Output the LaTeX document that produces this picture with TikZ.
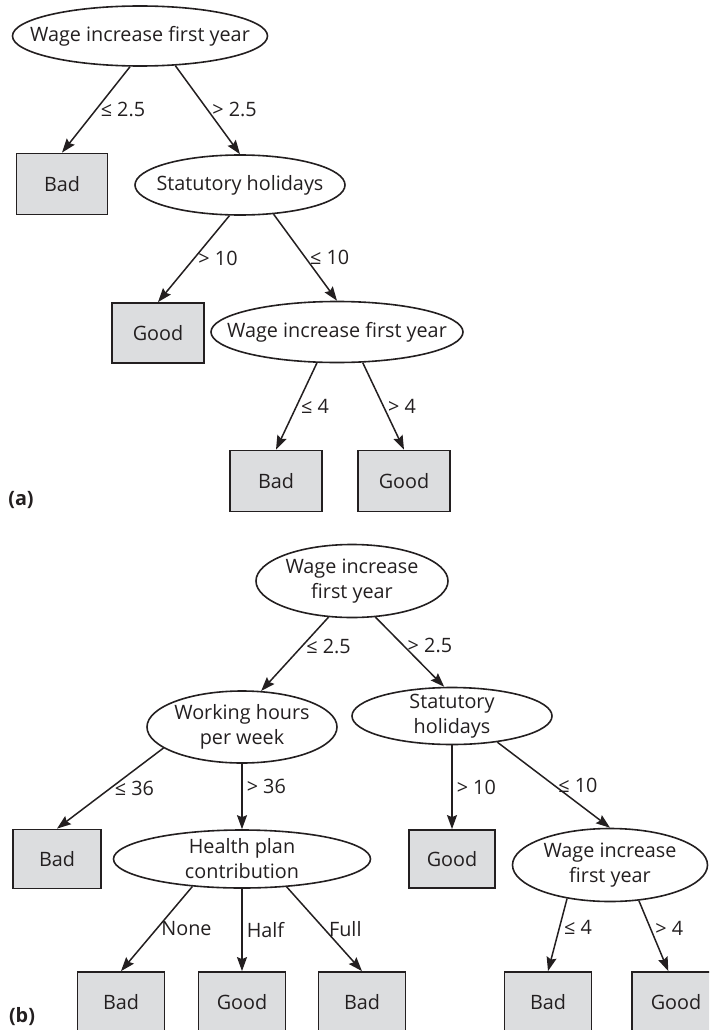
\documentclass[tikz,border=0pt]{standalone}
\usepackage{fontspec}
\setmainfont{Open Sans}
\usetikzlibrary{shapes.geometric,arrows.meta}
\definecolor{leafgray}{HTML}{DCDDDF}
\definecolor{inkgray}{HTML}{231F20}

\begin{document}
\begin{tikzpicture}[x=1pt,y=-1pt,
  font=\fontsize{19.8}{25}\selectfont, text=inkgray,
  test/.style={ellipse,draw=inkgray,line width=1.6pt,inner xsep=-80pt,inner ysep=-4pt,align=center},
  leaf/.style={draw=inkgray,fill=leafgray,line width=1.8pt,minimum width=91pt,minimum height=61pt},
  branch/.style={draw=inkgray,line width=1.5pt,-{Stealth[length=14pt,width=10pt,inset=2pt]}},
  cond/.style={midway,anchor=west,inner sep=4pt}]
\useasboundingbox (0,0) rectangle (709,1030);
\clip (0,0) rectangle (709,1030);

% Tree (a)
\node[test,minimum width=255pt,minimum height=60pt] (aroot) at (140,36) {Wage increase first year};
\node[leaf] (abad) at (62,184) {Bad};
\node[test,minimum width=210pt,minimum height=60pt] (astat) at (240,185) {Statutory holidays};
\node[leaf,minimum width=92pt,minimum height=60pt] (agood) at (158,333) {Good};
\node[test,minimum width=252pt,minimum height=61pt] (awage) at (337,332) {Wage increase first year};
\node[leaf,minimum width=92pt] (abad2) at (276,481) {Bad};
\node[leaf,minimum width=92pt] (agood2) at (404,481) {Good};
\node[font=\fontsize{19.8}{25}\selectfont\bfseries] (alabel) at (21,500) {(a)};

\draw[branch] (aroot.252) -- node[cond] {≤ 2.5} (abad.north);
\draw[branch] (aroot.320) -- node[cond] {> 2.5} (astat.north);
\draw[branch] (astat.251) -- node[cond] {> 10} (agood.north);
\draw[branch] (astat.319) -- node[cond] {≤ 10} (awage.north);
\draw[branch] (awage.237) -- node[cond] {≤ 4} (abad2.north);
\draw[branch] (awage.310) -- node[cond] {> 4} (agood2.north);

% Tree (b)
\node[test,minimum width=192pt,minimum height=73pt] (broot) at (352,581) {Wage increase\\first year};
\node[test,minimum width=190pt,minimum height=72pt] (bwork) at (242,727) {Working hours\\per week};
\node[test,minimum width=200pt,minimum height=57pt] (bstat) at (452,716) {Statutory\\holidays};
\node[leaf,minimum width=88pt,minimum height=59pt] (bbad) at (57,859) {Bad};
\node[test,minimum width=257pt,minimum height=58pt] (bhealth) at (242,859) {Health plan\\contribution};
\node[leaf,minimum width=86pt,minimum height=58pt] (bgood) at (452,859) {Good};
\node[test,minimum width=195pt,minimum height=73pt] (bwage) at (610,865) {Wage increase\\first year};
\node[leaf,minimum width=87pt,minimum height=60pt] (bbad2) at (121,1002) {Bad};
\node[leaf,minimum width=87pt,minimum height=60pt] (bgood2) at (242,1002) {Good};
\node[leaf,minimum width=87pt,minimum height=60pt] (bbad3) at (362,1002) {Bad};
\node[leaf,minimum width=87pt,minimum height=60pt] (bbad4) at (548,1002) {Bad};
\node[leaf,minimum width=88pt,minimum height=60pt] (bgood3) at (676,1002) {Good};
\node[font=\fontsize{19.8}{25}\selectfont\bfseries] (blabel) at (22,1017) {(b)};

\draw[branch] (broot.237) -- node[cond,pos=0.4] {≤ 2.5} (bwork.62);
\draw[branch] (broot.303) -- node[cond,pos=0.4] {> 2.5} (bstat.105);
\draw[branch] (bwork.195) -- node[cond] {≤ 36} (bbad.north);
\draw[branch] (bwork.south) -- node[cond,pos=0.35] {> 36} (bhealth.north);
\draw[branch] (bstat.south) -- node[cond] {> 10} (bgood.north);
\draw[branch] (bstat.330) -- node[cond] {≤ 10} (bwage.north);
\draw[branch] (bhealth.209) -- node[cond] {None} (bbad2.north);
\draw[branch] (bhealth.south) -- node[cond] {Half} (bgood2.north);
\draw[branch] (bhealth.328) -- node[cond] {Full} (bbad3.north);
\draw[branch] (bwage.218) -- node[cond,pos=0.4] {≤ 4} (bbad4.north);
\draw[branch] (bwage.309) -- node[cond,pos=0.4] {> 4} (bgood3.104);
\end{tikzpicture}
\end{document}
